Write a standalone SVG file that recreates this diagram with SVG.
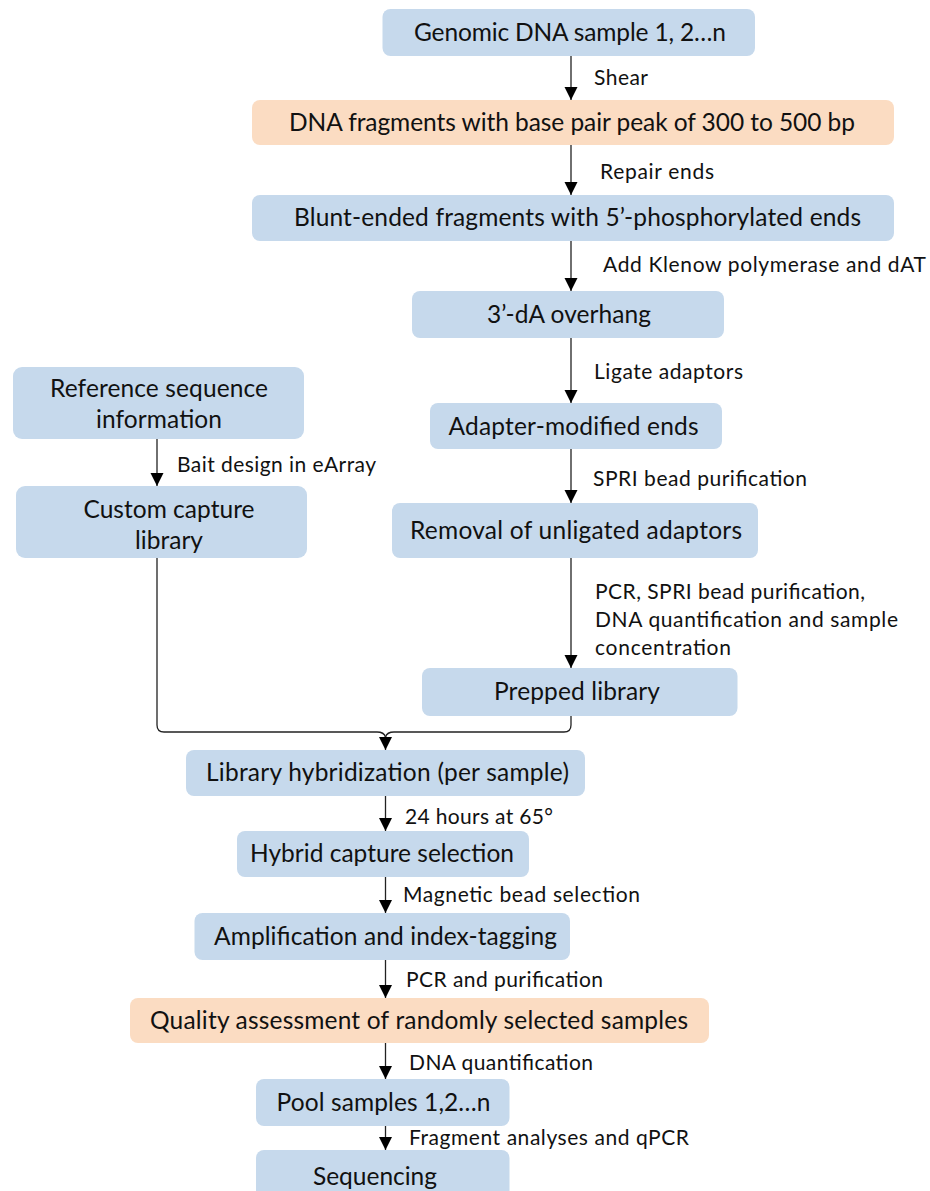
<svg xmlns="http://www.w3.org/2000/svg" width="930" height="1191" viewBox="0 0 930 1191">
<defs>
<style>
.blue{fill:#c6d9ec}
.orange{fill:#fbdcc2}
.t{font-family:Lato,"Liberation Sans",sans-serif;font-size:24.5px;fill:#111;text-anchor:middle}
.l{font-family:Lato,"Liberation Sans",sans-serif;font-size:21px;fill:#111}
.c{fill:none;stroke:#222;stroke-width:1.3}
</style>
<marker id="ah" markerUnits="userSpaceOnUse" markerWidth="14" markerHeight="14" refX="13" refY="6.5" orient="auto" viewBox="0 0 14 14">
<path d="M0,0 L13,6.5 L0,13 z" fill="#000"/>
</marker>
</defs>
<rect width="930" height="1191" fill="#fff"/>
<g id="connectors">
<line class="c" x1="571" y1="56" x2="571" y2="100" marker-end="url(#ah)"/>
<line class="c" x1="571" y1="145" x2="571" y2="195" marker-end="url(#ah)"/>
<line class="c" x1="571" y1="241" x2="571" y2="291" marker-end="url(#ah)"/>
<line class="c" x1="571" y1="338" x2="571" y2="403" marker-end="url(#ah)"/>
<line class="c" x1="571" y1="449" x2="571" y2="503" marker-end="url(#ah)"/>
<line class="c" x1="571" y1="558" x2="571" y2="668" marker-end="url(#ah)"/>
<line class="c" x1="157" y1="439" x2="157" y2="486" marker-end="url(#ah)"/>
<path class="c" d="M157,558 V725 Q157,732 164,732 H377 Q384,732 385.5,737"/>
<path class="c" d="M571,716 V725 Q571,732 564,732 H394 Q387,732 385.5,737"/>
<line class="c" x1="385.5" y1="736" x2="385.5" y2="750" marker-end="url(#ah)"/>
<line class="c" x1="385.5" y1="796" x2="385.5" y2="831" marker-end="url(#ah)"/>
<line class="c" x1="385.5" y1="877" x2="385.5" y2="913" marker-end="url(#ah)"/>
<line class="c" x1="385.5" y1="960" x2="385.5" y2="998" marker-end="url(#ah)"/>
<line class="c" x1="385.5" y1="1043" x2="385.5" y2="1079" marker-end="url(#ah)"/>
<line class="c" x1="385.5" y1="1126" x2="385.5" y2="1150" marker-end="url(#ah)"/>
<text class="l" x="594" y="85" textLength="54">Shear</text>
<text class="l" x="600" y="179" textLength="114">Repair ends</text>
<text class="l" x="603" y="272" textLength="323">Add Klenow polymerase and dAT</text>
<text class="l" x="594" y="379" textLength="149">Ligate adaptors</text>
<text class="l" x="593" y="486" textLength="214">SPRI bead purification</text>
<text class="l" x="595" y="599" textLength="270">PCR, SPRI bead purification,</text>
<text class="l" x="595" y="627" textLength="303">DNA quantification and sample</text>
<text class="l" x="595" y="655" textLength="136">concentration</text>
<text class="l" x="177" y="472" textLength="199">Bait design in eArray</text>
<text class="l" x="405" y="824" textLength="148">24 hours at 65°</text>
<text class="l" x="403" y="902" textLength="237">Magnetic bead selection</text>
<text class="l" x="406" y="987" textLength="197">PCR and purification</text>
<text class="l" x="409" y="1070" textLength="184">DNA quantification</text>
<text class="l" x="409" y="1145" textLength="280">Fragment analyses and qPCR</text>
</g>
<g id="n1"><rect class="blue" x="382.5" y="9" width="372.5" height="47" rx="8"/><text class="t" x="570" y="41" textLength="312">Genomic DNA sample 1, 2…n</text></g>
<g id="n2"><rect class="orange" x="252" y="100" width="642" height="45" rx="8"/><text class="t" x="572" y="131" textLength="566">DNA fragments with base pair peak of 300 to 500 bp</text></g>
<g id="n3"><rect class="blue" x="252" y="195" width="642" height="46" rx="8"/><text class="t" x="577.5" y="226" textLength="567">Blunt-ended fragments with 5’-phosphorylated ends</text></g>
<g id="n4"><rect class="blue" x="412" y="291" width="312" height="47" rx="8"/><text class="t" x="569" y="323" textLength="164">3’-dA overhang</text></g>
<g id="n5"><rect class="blue" x="430" y="403" width="292" height="46" rx="8"/><text class="t" x="573.5" y="435" textLength="250">Adapter-modified ends</text></g>
<g id="n6"><rect class="blue" x="392" y="503" width="366" height="55" rx="8"/><text class="t" x="576" y="539" textLength="332">Removal of unligated adaptors</text></g>
<g id="n7"><rect class="blue" x="422" y="668" width="315.5" height="48" rx="8"/><text class="t" x="577" y="700" textLength="166">Prepped library</text></g>
<g id="n8"><rect class="blue" x="13" y="367" width="291" height="72" rx="9"/><text class="t" x="159" y="397" textLength="218">Reference sequence</text><text class="t" x="159" y="428" textLength="126">information</text></g>
<g id="n9"><rect class="blue" x="16" y="486" width="291" height="72" rx="9"/><text class="t" x="169" y="518" textLength="171">Custom capture</text><text class="t" x="169" y="549" textLength="68">library</text></g>
<g id="n10"><rect class="blue" x="186" y="750" width="399" height="46" rx="8"/><text class="t" x="387.5" y="781" textLength="363">Library hybridization (per sample)</text></g>
<g id="n11"><rect class="blue" x="237" y="831" width="292" height="46" rx="8"/><text class="t" x="382" y="862" textLength="264">Hybrid capture selection</text></g>
<g id="n12"><rect class="blue" x="194.5" y="913" width="375.5" height="47" rx="8"/><text class="t" x="385.5" y="945" textLength="343">Amplification and index-tagging</text></g>
<g id="n13"><rect class="orange" x="130" y="998" width="579" height="45" rx="8"/><text class="t" x="419" y="1029" textLength="538">Quality assessment of randomly selected samples</text></g>
<g id="n14"><rect class="blue" x="256" y="1079" width="253.5" height="47" rx="8"/><text class="t" x="383.5" y="1111" textLength="214">Pool samples 1,2…n</text></g>
<g id="n15"><rect class="blue" x="256" y="1150" width="253.5" height="56" rx="8"/><text class="t" x="375" y="1185" textLength="124">Sequencing</text></g>
</svg>
